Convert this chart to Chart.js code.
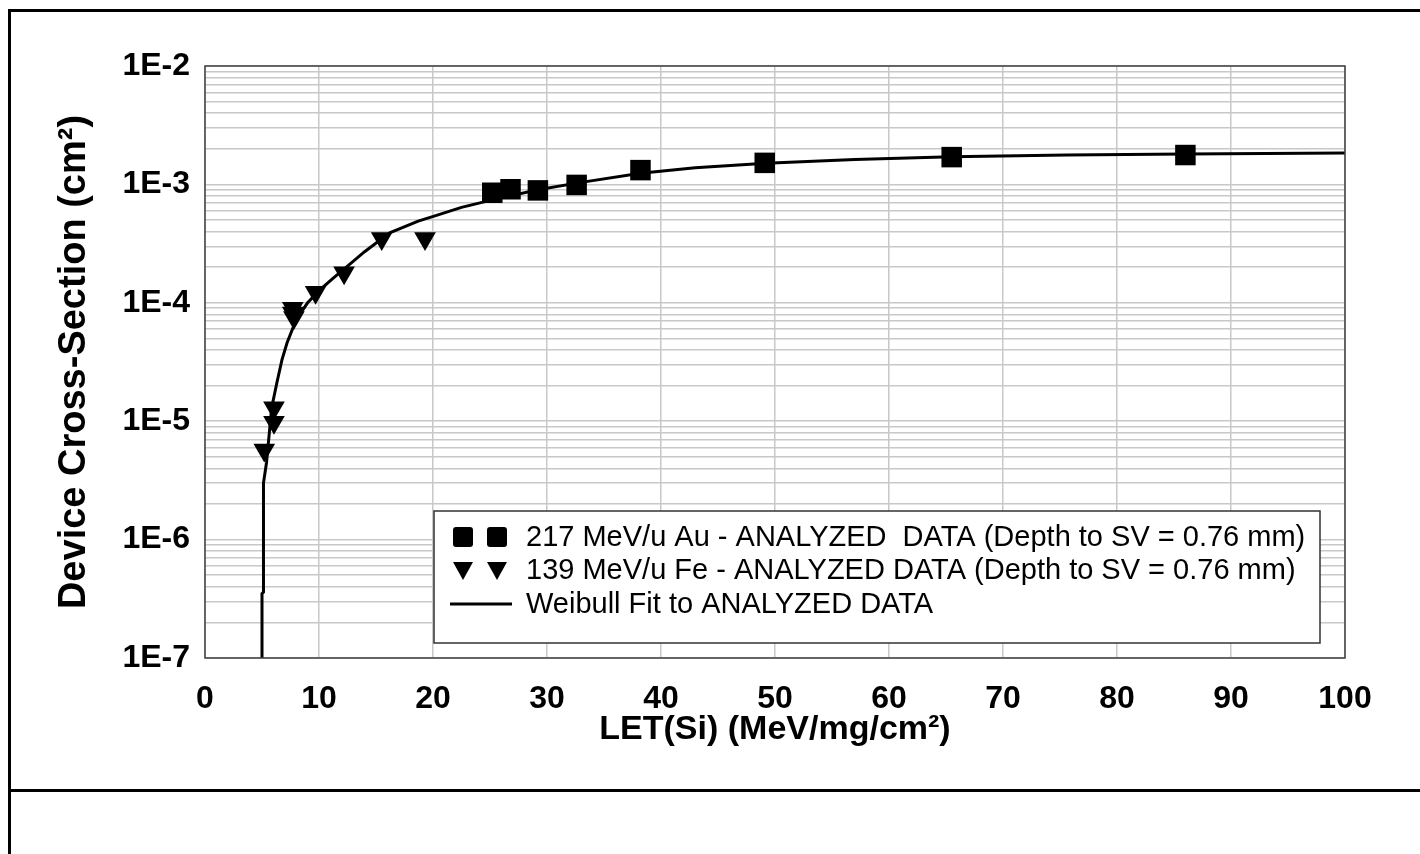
<!DOCTYPE html>
<html>
<head>
<meta charset="utf-8">
<script src="https://cdn.jsdelivr.net/npm/chart.js@4.4.1/dist/chart.umd.min.js"></script>
<style>
  html, body { margin: 0; padding: 0; background: #fff; overflow: hidden; }
  body { width: 1420px; height: 854px; position: relative; font-family: "Liberation Sans", Arial, sans-serif; }
  #frame { position: absolute; left: 8px; top: 9px; width: 1500px; height: 1000px; border-left: 3px solid #000; border-top: 3px solid #000; }
  #split { position: absolute; left: 8px; top: 789px; width: 1500px; height: 3px; background: #000; }
  #wrap { position: absolute; left: 0; top: 0; width: 1420px; height: 790px; }
</style>
</head>
<body>
<div id="frame"></div>
<div id="split"></div>
<div id="wrap"><canvas id="myChart"></canvas></div>
<script>
// 217 MeV/u Au - analyzed data
const auLET = [25.2, 26.8, 29.2, 32.6, 38.2, 49.1, 65.5, 86.0];
const auXS = [8.5e-4, 9.1e-4, 8.9e-4, 9.9e-4, 1.32e-3, 1.52e-3, 1.70e-3, 1.77e-3];

// 139 MeV/u Fe - analyzed data
const feLET = [5.2, 6.05, 6.05, 7.7, 7.7, 7.8, 9.7, 12.2, 15.5, 19.3];
const feXS = [5.7e-6, 1.3e-5, 9.8e-6, 9.0e-5, 8.2e-5, 7.5e-5, 1.23e-4, 1.79e-4, 3.5e-4, 3.5e-4];

// Weibull fit
const fitLET = [5.0, 5.0, 5.13, 5.13, 5.4, 5.85, 6.3, 6.75, 7.2, 8.0, 9.0, 10.1, 11.2, 12.4, 14.0, 16.2, 18.7, 20.1, 22.5, 25.2, 29.2, 33.0, 38.2, 43.0, 49.2, 57.0, 65.5, 75.6, 86.0, 100];
const fitXS = [1e-7, 3.5e-7, 3.6e-7, 3e-6, 4.5e-6, 1.3e-5, 2.1e-5, 3.3e-5, 4.6e-5, 7.2e-5, 1.0e-4, 1.29e-4, 1.6e-4, 2.0e-4, 2.7e-4, 3.9e-4, 4.9e-4, 5.4e-4, 6.4e-4, 7.4e-4, 9.0e-4, 1.04e-3, 1.24e-3, 1.38e-3, 1.51e-3, 1.62e-3, 1.71e-3, 1.77e-3, 1.81e-3, 1.84e-3];

const legendLabels = [
  '217 MeV/u Au - ANALYZED  DATA (Depth to SV = 0.76 mm)',
  '139 MeV/u Fe - ANALYZED DATA (Depth to SV = 0.76 mm)',
  'Weibull Fit to ANALYZED DATA'
];

const xTitle = 'LET(Si) (MeV/mg/cm²)';
const yTitle = 'Device Cross-Section (cm²)';
const yDecades = [-7, -6, -5, -4, -3, -2];

function toPoints(xs, ys) {
  return xs.map((x, i) => ({ x: x, y: ys[i] }));
}

// all 1..9 x 10^n ticks for the log grid
function logTicks() {
  let t = [];
  for (let d = yDecades[0]; d < yDecades[yDecades.length - 1]; d++) {
    for (let m = 1; m < 10; m++) {
      t.push({ value: m * Math.pow(10, d) });
    }
  }
  t.push({ value: Math.pow(10, yDecades[yDecades.length - 1]) });
  return t;
}

const FONT = "'Liberation Sans', Arial, sans-serif";

const boxPlugin = {
  id: 'boxPlugin',
  afterDraw(chart) {
    const ctx = chart.ctx;
    const a = chart.chartArea;
    ctx.save();
    ctx.strokeStyle = '#404040';
    ctx.lineWidth = 1.5;
    ctx.strokeRect(a.left, a.top, a.right - a.left, a.bottom - a.top);

    // legend box
    const lx = a.left + 229, ly = a.top + 445, lw = 886, lh = 132;
    ctx.fillStyle = '#fff';
    ctx.fillRect(lx, ly, lw, lh);
    ctx.strokeStyle = '#333';
    ctx.lineWidth = 1.5;
    ctx.strokeRect(lx, ly, lw, lh);

    const rows = [ly + 26, ly + 59, ly + 93];
    ctx.fillStyle = '#000';
    [lx + 29, lx + 63].forEach(cx => {
      ctx.beginPath();
      ctx.roundRect(cx - 10, rows[0] - 10, 20, 20, 3);
      ctx.fill();
      ctx.beginPath();
      ctx.moveTo(cx - 10, rows[1] - 8);
      ctx.lineTo(cx + 10, rows[1] - 8);
      ctx.lineTo(cx, rows[1] + 10);
      ctx.closePath();
      ctx.fill();
    });
    ctx.strokeStyle = '#000';
    ctx.lineWidth = 3;
    ctx.beginPath();
    ctx.moveTo(lx + 16, rows[2]);
    ctx.lineTo(lx + 78, rows[2]);
    ctx.stroke();

    ctx.font = '29px ' + FONT;
    ctx.textBaseline = 'middle';
    ctx.textAlign = 'left';
    legendLabels.forEach((s, i) => ctx.fillText(s, lx + 92, rows[i] + 1));
    ctx.restore();
  }
};

document.addEventListener('DOMContentLoaded', function () {
  const ctx = document.getElementById('myChart').getContext('2d');

  const data = {
    datasets: [
      {
        label: legendLabels[0],
        data: toPoints(auLET, auXS),
        pointStyle: 'rect',
        pointRadius: 14.5,
        backgroundColor: '#000',
        borderColor: '#000',
        borderWidth: 0,
        order: 1
      },
      {
        label: legendLabels[1],
        data: toPoints(feLET, feXS),
        pointStyle: 'triangle',
        rotation: 180,
        pointRadius: 12.5,
        backgroundColor: '#000',
        borderColor: '#000',
        borderWidth: 0,
        order: 1
      },
      {
        label: legendLabels[2],
        data: toPoints(fitLET, fitXS),
        showLine: true,
        pointRadius: 0,
        borderColor: '#000',
        borderWidth: 3,
        tension: 0,
        order: 2
      }
    ]
  };

  const config = {
    type: 'scatter',
    data: data,
    plugins: [boxPlugin],
    options: {
      responsive: false,
      animation: false,
      devicePixelRatio: 1,
      layout: { padding: { left: 0, top: 66, right: 75, bottom: 0 } },
      plugins: {
        legend: { display: false },
        tooltip: { enabled: false }
      },
      scales: {
        x: {
          type: 'linear',
          min: 0,
          max: 100,
          afterFit: s => { s.height = 132; },
          ticks: {
            stepSize: 10,
            padding: 22,
            color: '#000',
            font: { family: FONT, size: 32, weight: 'bold' }
          },
          grid: { color: '#c8c8c8', lineWidth: 1.5, drawTicks: false },
          border: { display: false },
          title: {
            display: true,
            text: xTitle,
            color: '#000',
            font: { family: FONT, size: 34, weight: 'bold' },
            padding: { top: 0, bottom: 40 }
          }
        },
        y: {
          type: 'logarithmic',
          min: 1e-7,
          max: 1e-2,
          afterFit: s => { s.width = 205; },
          afterBuildTicks: s => { s.ticks = logTicks(); },
          ticks: {
            autoSkip: false,
            padding: 15,
            color: '#000',
            font: { family: FONT, size: 32, weight: 'bold' },
            callback: function (v) {
              const e = Math.round(Math.log10(v));
              if (Math.abs(v - Math.pow(10, e)) / v < 1e-6) return '1E' + e;
              return '';
            }
          },
          grid: { color: '#c8c8c8', lineWidth: 1.5, drawTicks: false },
          border: { display: false },
          title: {
            display: true,
            text: yTitle,
            color: '#000',
            font: { family: FONT, size: 38, weight: 'bold' },
            padding: { top: 52, bottom: 0 }
          }
        }
      }
    }
  };

  ctx.canvas.width = 1420;
  ctx.canvas.height = 790;
  new Chart(ctx, config);
});
</script>
</body>
</html>
